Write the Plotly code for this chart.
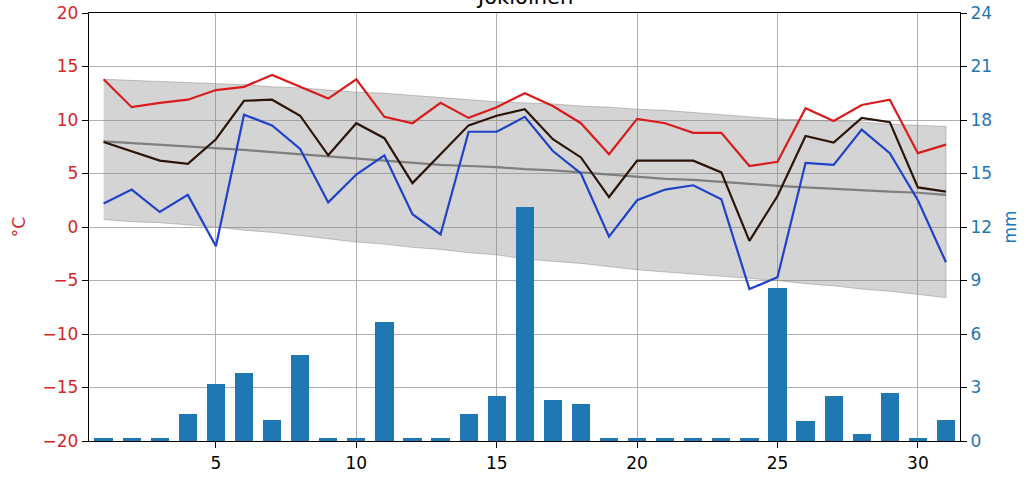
import plotly.graph_objects as go

days = list(range(1, 32))

t_max = [13.8, 11.2, 11.6, 11.9, 12.8, 13.1, 14.2, 13.1, 12.0, 13.8, 10.3, 9.7, 11.6, 10.2, 11.2,
         12.5, 11.3, 9.7, 6.8, 10.1, 9.7, 8.8, 8.8, 5.7, 6.1, 11.1, 9.9, 11.4, 11.9, 6.9, 7.7]
t_mean = [7.95, 7.1, 6.2, 5.9, 8.2, 11.8, 11.9, 10.4, 6.7, 9.7, 8.3, 4.1, 6.8, 9.5, 10.4,
          11.0, 8.2, 6.5, 2.8, 6.2, 6.2, 6.2, 5.1, -1.3, 2.9, 8.5, 7.9, 10.2, 9.8, 3.7, 3.3]
t_min = [2.2, 3.5, 1.4, 3.0, -1.8, 10.5, 9.5, 7.3, 2.3, 4.9, 6.7, 1.2, -0.7, 8.9, 8.9,
         10.3, 7.1, 5.0, -0.9, 2.5, 3.5, 3.9, 2.6, -5.8, -4.7, 6.0, 5.8, 9.1, 6.9, 2.5, -3.3]

clim_mean = [8.0, 7.85, 7.7, 7.5, 7.35, 7.2, 7.0, 6.8, 6.6, 6.4, 6.2, 6.0, 5.8, 5.7, 5.6,
             5.4, 5.3, 5.1, 4.9, 4.7, 4.5, 4.4, 4.2, 4.0, 3.85, 3.7, 3.55, 3.45, 3.3, 3.2, 3.0]
clim_upper = [13.8, 13.7, 13.6, 13.5, 13.4, 13.3, 13.1, 13.0, 12.8, 12.6, 12.5, 12.3, 12.1, 11.9, 11.7,
              11.6, 11.5, 11.3, 11.2, 11.0, 10.9, 10.7, 10.5, 10.3, 10.1, 10.0, 9.9, 9.8, 9.6, 9.5, 9.4]
clim_lower = [0.7, 0.5, 0.4, 0.2, 0.0, -0.3, -0.5, -0.8, -1.1, -1.4, -1.6, -1.9, -2.1, -2.4, -2.6,
              -3.0, -3.2, -3.4, -3.7, -4.0, -4.2, -4.4, -4.6, -4.8, -5.0, -5.3, -5.5, -5.8, -6.0, -6.3, -6.6]

precip = [0.15, 0.15, 0.15, 1.5, 3.2, 3.8, 1.2, 4.8, 0.15, 0.15, 6.7, 0.15, 0.15, 1.5, 2.5,
          13.1, 2.3, 2.1, 0.15, 0.15, 0.15, 0.15, 0.15, 0.15, 8.6, 1.1, 2.5, 0.4, 2.7, 0.15, 1.2]

temp_ticks = list(range(-20, 21, 5))
mm_ticks = list(range(0, 25, 3))
x_ticks = [5, 10, 15, 20, 25, 30]

FONT = "DejaVu Sans"
RED_T = "#d62728"
BLUE_T = "#1f77b4"

fig = go.Figure()

# climatological band
fig.add_trace(go.Scatter(
    x=days + days[::-1], y=clim_upper + clim_lower[::-1],
    fill="toself", fillcolor="rgba(128,128,128,0.34)",
    line=dict(color="rgba(128,128,128,0.45)", width=1),
    mode="lines", hoverinfo="skip", showlegend=False))

fig.add_trace(go.Scatter(x=days, y=clim_mean, mode="lines",
                         line=dict(color="#7f7f7f", width=2.2), showlegend=False))
fig.add_trace(go.Scatter(x=days, y=t_max, mode="lines",
                         line=dict(color="#d81c1c", width=2.2), showlegend=False))
fig.add_trace(go.Scatter(x=days, y=t_min, mode="lines",
                         line=dict(color="#1f42c8", width=2.2), showlegend=False))
fig.add_trace(go.Scatter(x=days, y=t_mean, mode="lines",
                         line=dict(color="#2b1508", width=2.2), showlegend=False))

fig.add_trace(go.Bar(x=days, y=precip, width=0.65, marker=dict(color=BLUE_T, line=dict(width=0)),
                     yaxis="y2", showlegend=False))

axis_common = dict(showline=True, linecolor="black", linewidth=1.3,
                   ticks="outside", ticklen=6, tickcolor="black", tickwidth=1.2,
                   zeroline=False, automargin=False)

fig.update_layout(
    width=1034, height=484,
    margin=dict(l=89, r=74, t=13, b=43),
    paper_bgcolor="white", plot_bgcolor="white",
    font=dict(family=FONT, size=17, color="black"),
    bargap=0,
    xaxis=dict(range=[0.48, 31.5], tickvals=x_ticks, showgrid=True, gridcolor="#b0b0b0",
               gridwidth=1, mirror=True, tickfont=dict(size=17, color="black"), **axis_common),
    yaxis=dict(range=[-20, 20], tickvals=temp_ticks, showgrid=True, gridcolor="#b0b0b0",
               gridwidth=1, tickfont=dict(size=17, color=RED_T),
               title=dict(text="°C", font=dict(size=17, color=RED_T), standoff=12),
               **axis_common),
    yaxis2=dict(range=[0, 24], tickvals=mm_ticks, overlaying="y", side="right", showgrid=False,
                tickfont=dict(size=17, color=BLUE_T),
                title=dict(text="mm", font=dict(size=17, color=BLUE_T), standoff=12),
                **axis_common),
    annotations=[dict(text="Jokioinen", x=0.5, y=1, xref="paper", yref="paper",
                      xanchor="center", yanchor="bottom", yshift=2, showarrow=False,
                      font=dict(size=21, color="black", family=FONT))],
)

# the page body has a default 8px margin; remove it so the figure sits at the window's corner
fig.write_html("out.html", config={"displayModeBar": False},
               post_script="document.body.style.margin='0px';")
